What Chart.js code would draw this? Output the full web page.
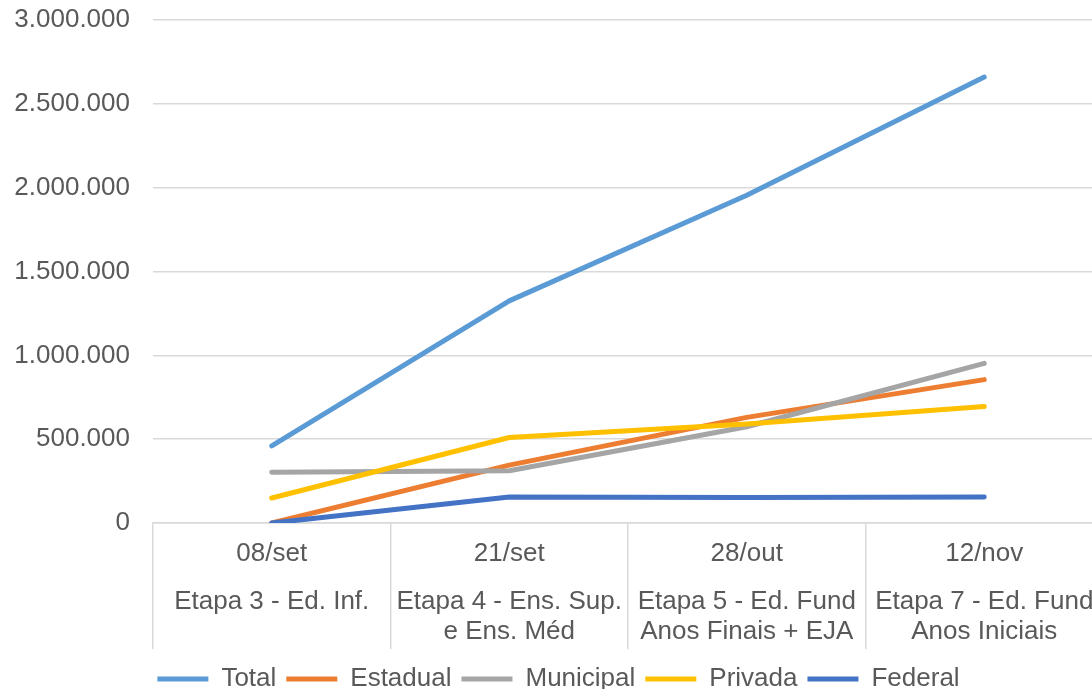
<!DOCTYPE html>
<html lang="pt-BR">
<head>
<meta charset="utf-8">
<script src="https://cdn.jsdelivr.net/npm/chart.js@4/dist/chart.umd.min.js"></script>
<style>
  html, body { margin: 0; padding: 0; background: #ffffff; overflow: hidden; }
  #wrap { width: 1136px; height: 702px; position: relative; }
</style>
</head>
<body>
<div id="wrap"><canvas id="chart"></canvas></div>
<script>
// Datas das etapas e descrição de cada etapa (segundo nível do eixo X)
const categories = ['08/set', '21/set', '28/out', '12/nov'];
const stages = [
  ['Etapa 3 - Ed. Inf.'],
  ['Etapa 4 - Ens. Sup.', 'e Ens. Méd'],
  ['Etapa 5 - Ed. Fund', 'Anos Finais + EJA'],
  ['Etapa 7 - Ed. Fund', 'Anos Iniciais']
];

// Valores por rede de ensino
const total     = [460000, 1325000, 1955000, 2660000];
const estadual  = [0, 345000, 630000, 855000];
const municipal = [303000, 312000, 574000, 952000];
const privada   = [149000, 510000, 590000, 695000];
const federal   = [0, 155000, 152000, 155000];

// Marcas do eixo Y
const yMin = 0, yMax = 3000000, yStep = 500000;

const FONT = '"Liberation Sans", Arial, sans-serif';
const TEXT = '#595959';
const GRID = '#d9d9d9';

function fmt(v) {
  return String(Math.round(v)).replace(/\B(?=(\d{3})+(?!\d))/g, '.');
}

function series(label, data, color, order) {
  return {
    label, data, order,
    borderColor: color,
    backgroundColor: color,
    borderWidth: 5,
    borderCapStyle: 'round',
    borderJoinStyle: 'round',
    pointRadius: 0,
    pointHoverRadius: 0,
    tension: 0,
    fill: false
  };
}

new Chart(document.getElementById('chart'), {
  type: 'line',
  data: {
    labels: categories,
    datasets: [
      series('Total', total, '#5B9BD5', 5),
      series('Estadual', estadual, '#ED7D31', 4),
      series('Municipal', municipal, '#A5A5A5', 3),
      series('Privada', privada, '#FFC000', 2),
      series('Federal', federal, '#4472C4', 1)
    ]
  },
  options: {
    responsive: true,
    maintainAspectRatio: false,
    animation: false,
    layout: { padding: { top: 20, left: 14, right: 33, bottom: 0 } },
    plugins: {
      tooltip: { enabled: false },
      legend: {
        position: 'bottom',
        labels: {
          usePointStyle: true,
          pointStyle: 'line',
          pointStyleWidth: 51,
          padding: 10,
          color: TEXT,
          font: { family: FONT, size: 26 },
          sort: (a, b) => a.datasetIndex - b.datasetIndex
        }
      }
    },
    scales: {
      y: {
        min: yMin,
        max: yMax,
        border: { display: false },
        grid: { color: GRID, lineWidth: 1.5, drawTicks: false },
        ticks: {
          stepSize: yStep,
          padding: 23,
          color: TEXT,
          font: { family: FONT, size: 26 },
          callback: (v) => fmt(v)
        },
        afterFit: (s) => { s.width = 139; s.paddingTop = 0; s.paddingBottom = 0; }
      },
      x: {
        offset: true,
        weight: 0,
        border: { color: GRID, width: 1.5 },
        grid: { offset: true, drawOnChartArea: false, tickLength: 48, color: GRID, lineWidth: 1.5 },
        ticks: {
          autoSkip: false, maxRotation: 0, minRotation: 0,
          padding: -32,
          color: TEXT,
          font: { family: FONT, size: 26, lineHeight: 30 / 26 }
        },
        afterFit: (s) => { s.height = 48; }
      },
      x2: {
        type: 'category',
        position: 'bottom',
        labels: stages,
        offset: true,
        weight: 1,
        border: { display: false },
        grid: { offset: true, drawOnChartArea: false, tickLength: 78, color: GRID, lineWidth: 1.5 },
        ticks: {
          autoSkip: false, maxRotation: 0, minRotation: 0,
          padding: -62,
          color: TEXT,
          font: { family: FONT, size: 26, lineHeight: 30 / 26 }
        },
        afterFit: (s) => { s.height = 85; }
      }
    }
  }
});
</script>
</body>
</html>
